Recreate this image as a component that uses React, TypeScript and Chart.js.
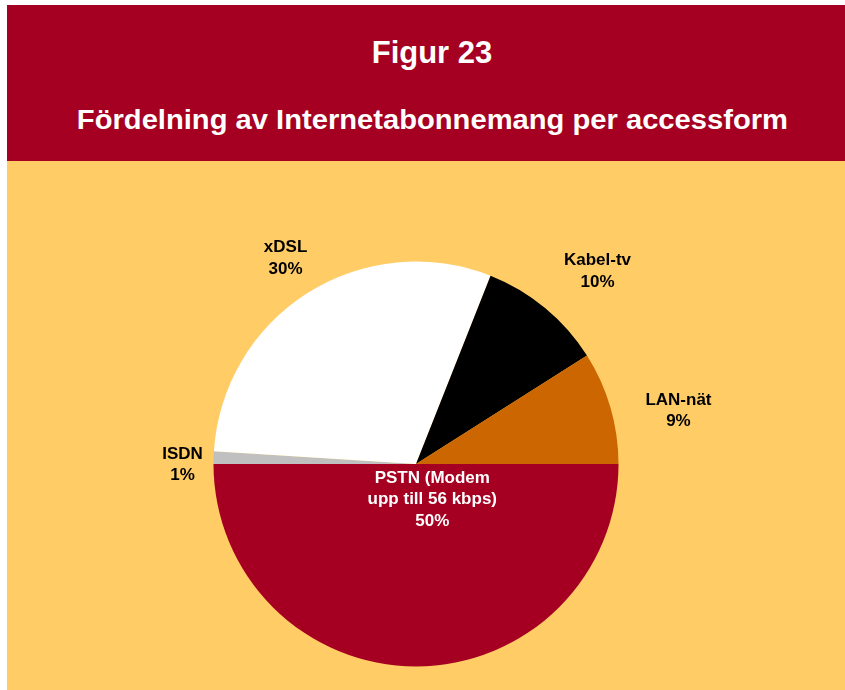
import React, { useEffect, useRef } from "react";
import { Chart, registerables } from "chart.js";

Chart.register(...registerables);

// ---- data ----
const categories = ["PSTN (Modem upp till 56 kbps)", "ISDN", "xDSL", "Kabel-tv", "LAN-nät"];
const labelLines = [["PSTN (Modem", "upp till 56 kbps)"], ["ISDN"], ["xDSL"], ["Kabel-tv"], ["LAN-nät"]];
const shares = [50, 1, 30, 10, 9];
const sliceColors = ["#A50021", "#C0C0C0", "#FFFFFF", "#000000", "#CC6600"];
const labelColors = ["#FFFFFF", "#000000", "#000000", "#000000", "#000000"];
// label placement: radial factor (x outer radius) and angle offset (degrees) from slice middle
const labelRadius = [0.187, 1.153, 1.209, 1.312, 1.324];
const labelAngleOffset = [-25.5, -1.7, 0.2, 3.5, 4.4];

const figureNumber = "Figur 23";
const figureTitle = "Fördelning av Internetabonnemang per accessform";

const FONT = "'Liberation Sans', Arial, Helvetica, sans-serif";

const sliceLabelPlugin = {
  id: "sliceLabels",
  afterDatasetsDraw(chart: any) {
    const ctx = chart.ctx as CanvasRenderingContext2D;
    const meta = chart.getDatasetMeta(0);
    const values = chart.data.datasets[0].data as number[];
    const fontSize = 17;
    const lh = 21.5;
    const cap = 0.716 * fontSize;
    ctx.save();
    ctx.font = `bold ${fontSize}px ${FONT}`;
    ctx.textAlign = "center";
    ctx.textBaseline = "alphabetic";
    meta.data.forEach((arc: any, i: number) => {
      const p = arc.getProps(["x", "y", "startAngle", "endAngle", "outerRadius"], true);
      const mid = (p.startAngle + p.endAngle) / 2 + (labelAngleOffset[i] * Math.PI) / 180;
      const r = p.outerRadius * labelRadius[i];
      const cx = p.x + Math.cos(mid) * r;
      const cy = p.y + Math.sin(mid) * r;
      const lines = [...labelLines[i], `${values[i]}%`];
      const n = lines.length;
      ctx.fillStyle = labelColors[i];
      lines.forEach((t, k) => {
        const by = cy + (k - (n - 1) / 2) * lh + cap / 2;
        ctx.fillText(t, cx, by);
      });
    });
    ctx.restore();
  },
};

export default function App() {
  const canvasRef = useRef<HTMLCanvasElement | null>(null);

  useEffect(() => {
    document.body.style.margin = "0";
    const canvas = canvasRef.current;
    if (!canvas) return;
    const chart = new Chart(canvas, {
      type: "pie",
      data: {
        labels: categories,
        datasets: [
          {
            data: shares,
            backgroundColor: sliceColors,
            borderWidth: 0,
            hoverOffset: 0,
          },
        ],
      },
      options: {
        animation: false,
        responsive: false,
        rotation: 90,
        events: [],
        layout: { padding: { top: 100.5, bottom: 23.5, left: 0, right: 20 } },
        plugins: {
          legend: { display: false },
          tooltip: { enabled: false },
          title: { display: false },
        },
      },
      plugins: [sliceLabelPlugin],
    });
    return () => chart.destroy();
  }, []);

  return (
    <div style={{ position: "fixed", left: 0, top: 0, width: 845, height: 690, background: "#FFFFFF", overflow: "hidden" }}>
      <div style={{ position: "absolute", left: 7, top: 5, width: 838, height: 156, background: "#A50021" }} />
      <div
        style={{
          position: "absolute",
          left: 0,
          width: 864,
          top: 37,
          textAlign: "center",
          color: "#FFFFFF",
          fontFamily: FONT,
          fontWeight: "bold",
          fontSize: 31,
          lineHeight: "31px",
          whiteSpace: "nowrap",
        }}
      >
        {figureNumber}
      </div>
      <div
        style={{
          position: "absolute",
          left: 0,
          width: 864,
          top: 106,
          textAlign: "center",
          color: "#FFFFFF",
          fontFamily: FONT,
          fontWeight: "bold",
          fontSize: 27.5,
          lineHeight: "27.5px",
          whiteSpace: "nowrap",
        }}
      >
        <span style={{ display: "inline-block", transform: "scaleX(1.06)" }}>{figureTitle}</span>
      </div>
      <div style={{ position: "absolute", left: 7, top: 161, width: 838, height: 529, background: "#FFCC66" }}>
        <canvas ref={canvasRef} width={838} height={529} style={{ display: "block", width: 838, height: 529 }} />
      </div>
    </div>
  );
}
